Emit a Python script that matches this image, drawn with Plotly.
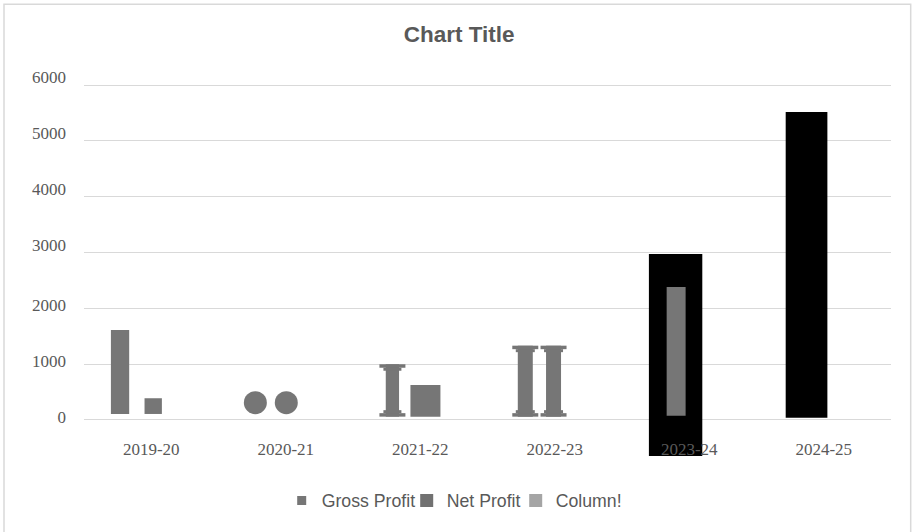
import plotly.graph_objects as go

# ---------------- data ----------------
categories = ["2019-20", "2020-21", "2021-22", "2022-23", "2023-24", "2024-25"]
y_tick_values = [0, 1000, 2000, 3000, 4000, 5000, 6000]
y_tick_labels = ["0", "1000", "2000", "3000", "4000", "5000", "6000"]
# value level at which each y label is printed in the original
y_label_level = [59, 1057, 2054, 3143, 4141, 5135, 6149]

legend_names = ["Gross Profit", "Net Profit", "Column!"]

# rectangular marks: category index, base value, top value
gross_bar_cat = [0, 4]
gross_bar_base = [107, 77]
gross_bar_top = [1612, 2382]

net_bar_cat = [0, 2]
net_bar_base = [107, 59]
net_bar_top = [389, 627]

column_bar_cat = [4, 5]
column_bar_base = [-645, 41]
column_bar_top = [2973, 5517]

# round marks
dot_cat = [1, 1]
dot_value = [310, 310]

# "I"-shaped marks
glyph_cat = [2, 3, 3]
glyph_base = [59, 59, 59]
glyph_top = [998, 1331, 1331]

# ---------------- layout / style ----------------
W, H = 914, 532
ML, MR = 84, 23
ZERO_PX, TOP_GRID_PX = 420, 85          # pixel rows of 0 and 6000
Y_MIN, Y_MAX = -700, 6200
PPU = (ZERO_PX - TOP_GRID_PX) / 6000     # px per value unit
MT = TOP_GRID_PX - (Y_MAX - 6000) * PPU
MB = H - (ZERO_PX + (0 - Y_MIN) * PPU)
PLOT_W = W - ML - MR
PLOT_H = H - MT - MB
CW = PLOT_W / len(categories)            # px per category

GRAY = "#767676"
TXT = "#595959"
GRID = "#d9d9d9"

gross_bar_offset = [-0.300, -0.168]
gross_bar_width = [0.136, 0.141]
net_bar_offset = [-0.050, -0.073]
net_bar_width = [0.129, 0.223]
column_bar_offset = [-0.300, -0.283]
column_bar_width = [0.397, 0.310]
dot_shift = [-0.226, 0.004]
dot_size = 23
glyph_shift = [-0.207, -0.219, -0.009]
glyph_stem_px = [13.3, 15, 15]
glyph_serif_px = [26, 26, 26]
glyph_bracket_px = [18, 19, 19]
SERIF_H_PX, BRACKET_H_PX = 3.5, 3.0

fig = go.Figure()


def add_bars(name, cats, base, top, offset, width, color):
    fig.add_trace(go.Bar(
        name=name, x=cats, base=base,
        y=[t - b for t, b in zip(top, base)],
        offset=offset, width=width,
        marker=dict(color=color, line=dict(width=0)),
        showlegend=False, hoverinfo="skip"))


add_bars("Column!", column_bar_cat, column_bar_base, column_bar_top,
         column_bar_offset, column_bar_width, "#000000")
add_bars("Gross Profit", gross_bar_cat, gross_bar_base, gross_bar_top,
         gross_bar_offset, gross_bar_width, GRAY)
add_bars("Net Profit", net_bar_cat, net_bar_base, net_bar_top,
         net_bar_offset, net_bar_width, GRAY)

fig.add_trace(go.Scatter(
    x=[c + s for c, s in zip(dot_cat, dot_shift)], y=dot_value,
    mode="markers", marker=dict(size=dot_size, color=GRAY, line=dict(width=0)),
    showlegend=False, hoverinfo="skip", yaxis="y2"))

# "I" marks built from stem, serifs and brackets
gx, gb, gl, gw = [], [], [], []
sh = SERIF_H_PX / PPU
bh = BRACKET_H_PX / PPU
for c, s, b, t, st, se, br in zip(glyph_cat, glyph_shift, glyph_base, glyph_top,
                                  glyph_stem_px, glyph_serif_px, glyph_bracket_px):
    cx = c + s
    parts = [(b, t - b, st), (b, sh, se), (t - sh, sh, se),
             (b + sh, bh, br), (t - sh - bh, bh, br)]
    for pb, pl, pw in parts:
        gx.append(cx)
        gb.append(pb)
        gl.append(pl)
        gw.append(pw / CW)
fig.add_trace(go.Bar(
    name="Gross Profit", x=gx, base=gb, y=gl, width=gw,
    marker=dict(color=GRAY, line=dict(width=0)),
    showlegend=False, hoverinfo="skip"))

# legend entries
legend_colors = [GRAY, "#717171", "#a5a5a5"]
legend_sizes = [9, 13, 13]
legend_widths = [80, 64, 70]
for n, c, s, lw in zip(legend_names, legend_colors, legend_sizes, legend_widths):
    fig.add_trace(go.Scatter(
        name=n, x=[None], y=[None], mode="markers",
        marker=dict(symbol="square", size=s, color=c, line=dict(width=0)),
        legendwidth=lw, showlegend=True))

fig.update_layout(
    width=W, height=H,
    margin=dict(l=ML, r=MR, t=MT, b=MB, pad=0),
    paper_bgcolor="white", plot_bgcolor="white",
    barmode="overlay",
    title=dict(text="Chart Title", x=0.5024, xanchor="center",
               y=1 - 34.5 / H, yanchor="middle",
               font=dict(family="Liberation Sans", size=22.5, color=TXT, weight="bold")),
    xaxis=dict(range=[-0.5, 5.5], tickvals=list(range(len(categories))),
               ticktext=categories, showgrid=False, zeroline=False,
               showline=False, ticks="", ticklabelstandoff=-22,
               tickfont=dict(family="Liberation Serif", size=17, color=TXT)),
    yaxis=dict(range=[Y_MIN, Y_MAX], tickvals=y_tick_values,
               showticklabels=False, showgrid=True, gridcolor=GRID,
               gridwidth=1.3, zeroline=False, ticks=""),
    yaxis2=dict(range=[Y_MIN, Y_MAX], overlaying="y", side="left",
                tickvals=y_label_level, ticktext=y_tick_labels,
                showgrid=False, zeroline=False, ticks="",
                ticklabelstandoff=17,
                tickfont=dict(family="Liberation Serif", size=17, color=TXT)),
    legend=dict(orientation="h", x=(281.7 - ML) / PLOT_W, xanchor="left",
                y=(PLOT_H + MT - 501) / PLOT_H, yanchor="middle",
                itemsizing="trace", itemclick=False,
                font=dict(family="Liberation Sans", size=17.7, color=TXT),
                bgcolor="rgba(0,0,0,0)"),
    showlegend=True,
    shapes=[dict(type="rect", xref="paper", yref="paper",
                 x0=(4 - ML) / PLOT_W, x1=(910.7 - ML) / PLOT_W,
                 y0=(PLOT_H + MT - 545) / PLOT_H, y1=(PLOT_H + MT - 4) / PLOT_H,
                 line=dict(color=GRID, width=1.5), fillcolor="rgba(0,0,0,0)",
                 layer="below")],
)

fig.write_html("out.html",
               config={"displayModeBar": False},
               post_script="document.body.style.margin='0px';"
                           "document.body.style.overflow='hidden';")
